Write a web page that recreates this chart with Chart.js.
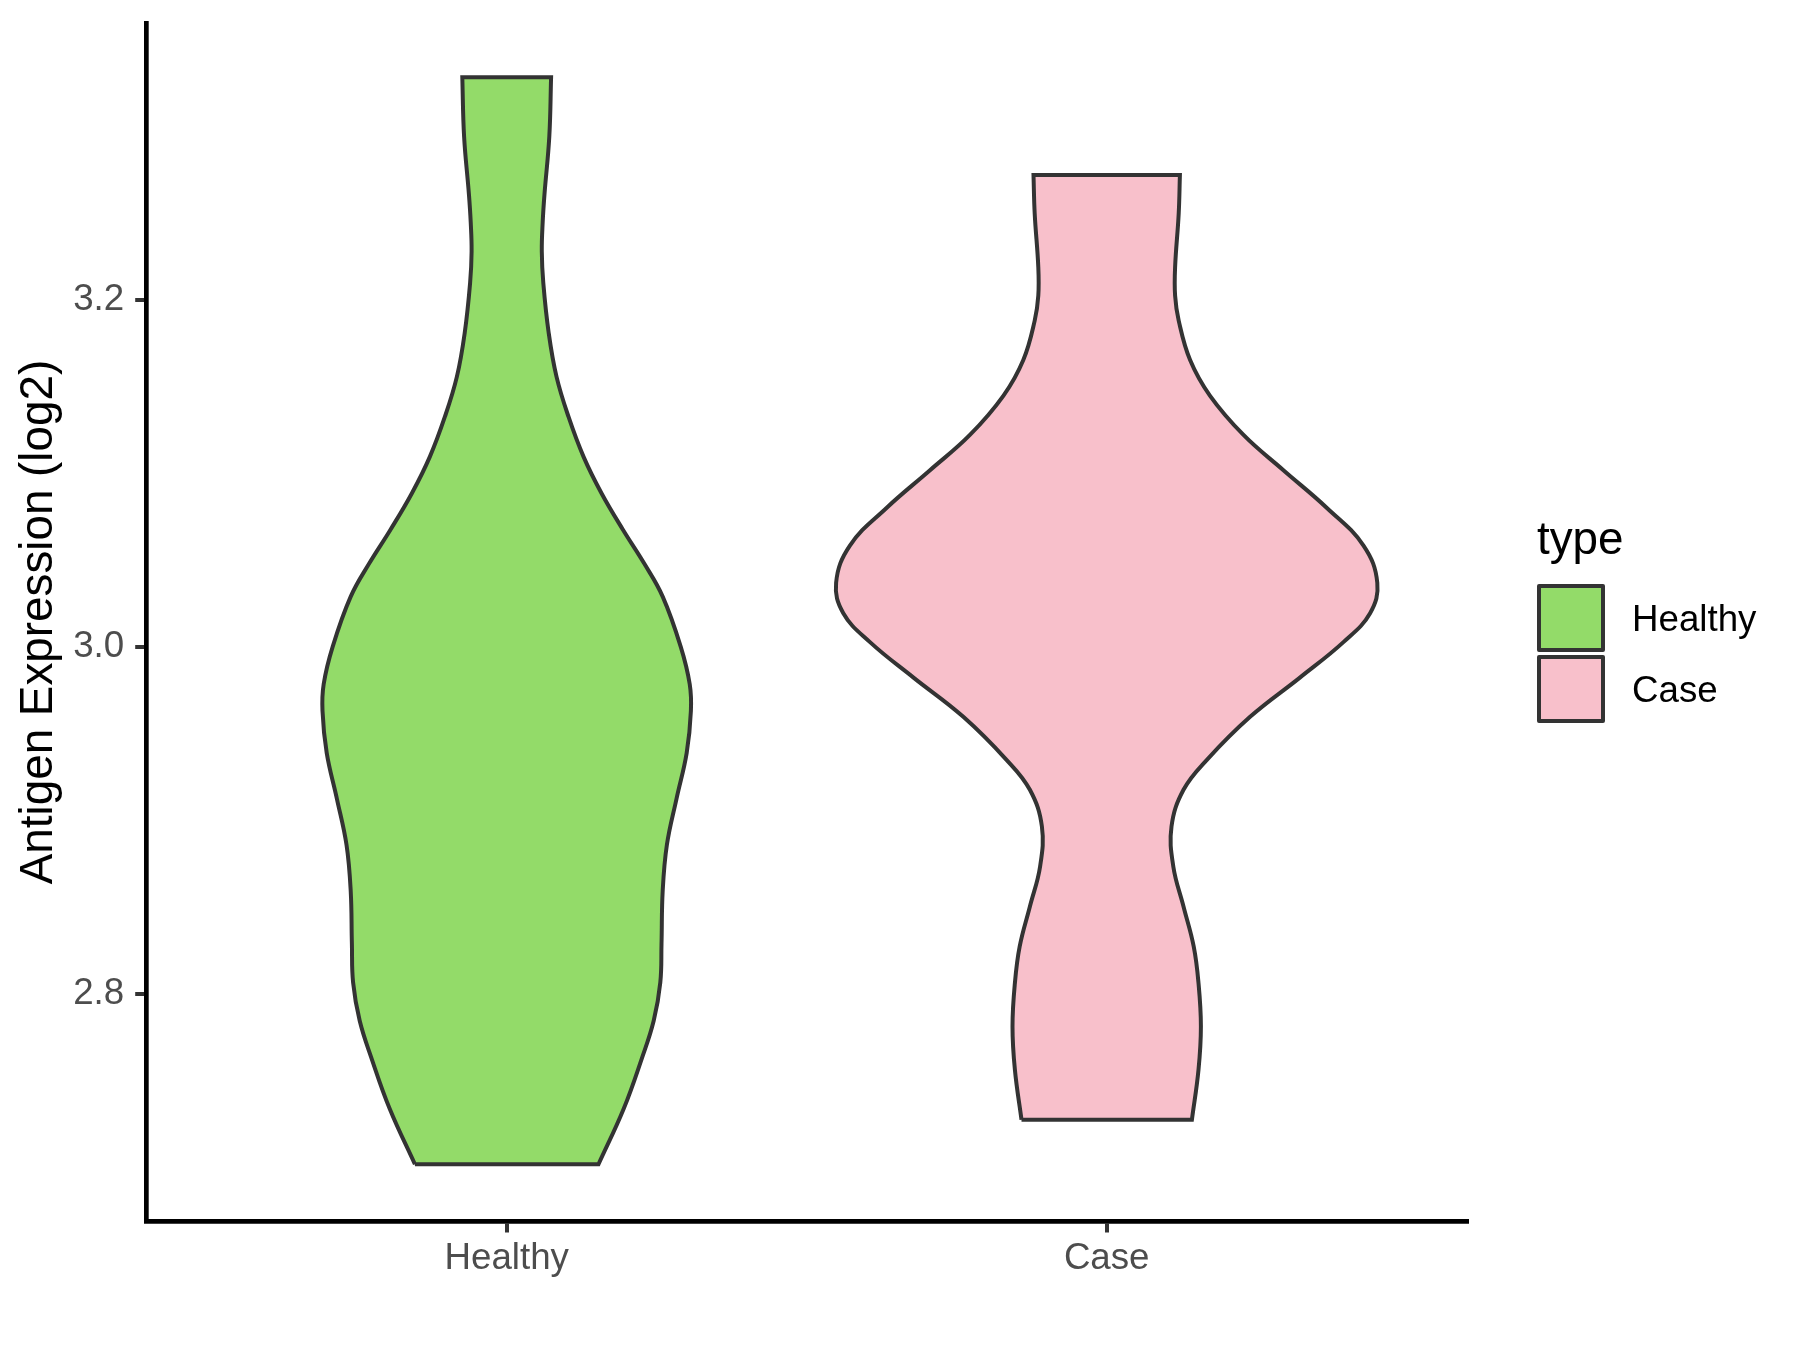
<!DOCTYPE html>
<html>
<head>
<meta charset="utf-8">
<script src="https://cdn.jsdelivr.net/npm/chart.js@4"></script>
<style>
  body { margin: 0; background: #fff; }
  #wrap { position: relative; width: 1800px; height: 1350px; font-family: "Liberation Sans", Arial, sans-serif; }
  #violinChart { position: absolute; left: 0; top: 0; }
  .lg { position: absolute; line-height: 1; color: #000; white-space: nowrap; }
  .key { position: absolute; box-sizing: border-box; width: 68px; height: 68px; border: 4px solid #333; border-radius: 2px; }
</style>
</head>
<body>
<div id="wrap">
  <canvas id="violinChart" width="1800" height="1350"></canvas>
  <div class="lg" style="left:1537px; top:516px; font-size:45.8px;">type</div>
  <div class="key" style="left:1537px; top:584px; background:#93DB69;"></div>
  <div class="key" style="left:1537px; top:655px; background:#F8C0CB;"></div>
  <div class="lg" style="left:1632px; top:601px; font-size:36.7px;">Healthy</div>
  <div class="lg" style="left:1632px; top:672px; font-size:36.7px;">Case</div>
</div>
<script>
// categories and tick labels
const categories = ['Healthy', 'Case'];
const yTickValues = [2.8, 3.0, 3.2];
const fillColors = ['#93DB69', '#F8C0CB'];

// violin outline: expression levels (bottom to top) and half widths (in category units)
const healthyLevels = [2.7017, 2.7337, 2.7625, 2.7844, 2.8065, 2.8286, 2.8594, 2.8859, 2.9124, 2.9389, 2.9631, 2.9786, 3.0002, 3.0290, 3.0482, 3.0674, 3.0886, 3.1097, 3.1327, 3.1558, 3.1810, 3.2098, 3.2280, 3.2450, 3.2611, 3.2942, 3.3284];
const healthyHalfWidth = [0.153, 0.195, 0.225, 0.245, 0.256, 0.258, 0.260, 0.267, 0.283, 0.300, 0.307, 0.305, 0.290, 0.260, 0.229, 0.194, 0.158, 0.128, 0.103, 0.083, 0.070, 0.061, 0.0585, 0.060, 0.063, 0.071, 0.074];

const caseLevels = [2.7274, 2.7562, 2.7812, 2.8062, 2.8273, 2.8503, 2.8734, 2.8964, 2.9176, 2.9349, 2.9597, 2.9823, 3.0029, 3.0194, 3.0369, 3.0584, 3.0801, 3.1017, 3.1222, 3.1449, 3.1654, 3.1881, 3.2025, 3.2190, 3.2498, 3.2720];
const caseHalfWidth = [0.142, 0.153, 0.157, 0.153, 0.145, 0.128, 0.111, 0.108, 0.128, 0.167, 0.239, 0.322, 0.395, 0.439, 0.451, 0.428, 0.367, 0.295, 0.228, 0.172, 0.139, 0.120, 0.114, 0.114, 0.120, 0.122];

// closed outline: left side up, right side down; corners doubled so they stay sharp
function violinPoints(center, levels, halfWidth) {
  const n = levels.length;
  const pts = [];
  for (let i = 0; i < n; i++) {
    pts.push({ x: center - halfWidth[i], y: levels[i] });
    if (i === 0 || i === n - 1) pts.push({ x: center - halfWidth[i], y: levels[i] });
  }
  for (let i = n - 1; i >= 0; i--) {
    pts.push({ x: center + halfWidth[i], y: levels[i] });
    if (i === 0 || i === n - 1) pts.push({ x: center + halfWidth[i], y: levels[i] });
  }
  pts.push({ x: center - halfWidth[0], y: levels[0] });
  pts.push({ x: center - halfWidth[0], y: levels[0] });
  return pts;
}

const tickFont = { family: '"Liberation Sans", Arial, sans-serif', size: 36.7 };

function createViolinChart() {
  const ctx = document.getElementById('violinChart').getContext('2d');
  new Chart(ctx, {
    type: 'line',
    data: {
      datasets: [
        {
          label: categories[0],
          data: violinPoints(1, healthyLevels, healthyHalfWidth),
          borderColor: '#333333',
          backgroundColor: fillColors[0],
          borderWidth: 4,
          fill: 'shape',
          tension: 0.4,
          pointRadius: 0
        },
        {
          label: categories[1],
          data: violinPoints(2, caseLevels, caseHalfWidth),
          borderColor: '#333333',
          backgroundColor: fillColors[1],
          borderWidth: 4,
          fill: 'shape',
          tension: 0.4,
          pointRadius: 0
        }
      ]
    },
    options: {
      responsive: false,
      animation: false,
      devicePixelRatio: 1,
      layout: {
        padding: { top: 23, right: 333.3, bottom: 0, left: 0 }
      },
      plugins: {
        legend: { display: false },
        tooltip: { enabled: false }
      },
      scales: {
        x: {
          type: 'linear',
          min: 0.4,
          max: 2.6,
          afterBuildTicks: function(scale) {
            scale.ticks = categories.map((c, i) => ({ value: i + 1 }));
          },
          afterFit: function(scale) {
            scale.height = 129;
            scale.paddingLeft = 0;
            scale.paddingRight = 0;
          },
          grid: {
            drawOnChartArea: false,
            tickLength: 11.5,
            color: '#333333',
            lineWidth: 4
          },
          border: { color: '#000000', width: 4.7 },
          ticks: {
            font: tickFont,
            color: '#4D4D4D',
            padding: 4,
            callback: function(value) {
              return categories[value - 1];
            }
          }
        },
        y: {
          min: 2.669,
          max: 3.3597,
          afterBuildTicks: function(scale) {
            scale.ticks = yTickValues.map(v => ({ value: v }));
          },
          afterFit: function(scale) {
            scale.width = 146.7;
            scale.paddingTop = 0;
            scale.paddingBottom = 0;
          },
          grid: {
            drawOnChartArea: false,
            tickLength: 11.5,
            color: '#333333',
            lineWidth: 4
          },
          border: { color: '#000000', width: 4.7 },
          ticks: {
            font: tickFont,
            color: '#4D4D4D',
            padding: 11,
            callback: function(value) {
              return value.toFixed(1);
            }
          },
          title: {
            display: true,
            text: 'Antigen Expression (log2)',
            color: '#000000',
            font: { family: '"Liberation Sans", Arial, sans-serif', size: 45.8 },
            padding: { top: 12, bottom: 0 }
          }
        }
      }
    }
  });
}

createViolinChart();
</script>
</body>
</html>
